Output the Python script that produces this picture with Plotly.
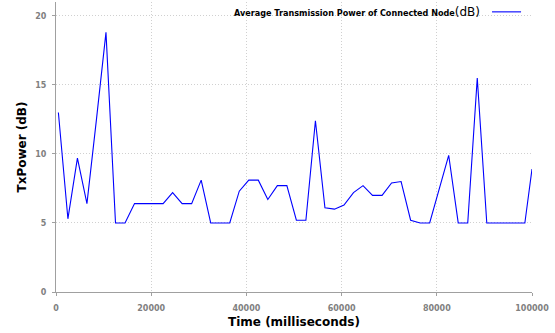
import plotly.graph_objects as go

# Sample times (ms) and average transmit power of the connected node (dB)
time_ms = [500 + 2000 * k for k in range(50)] + [100000]
tx_power_db = [
    13.0, 5.3, 9.7, 6.4, 12.5, 18.8, 5.0, 5.0, 6.4, 6.4,
    6.4, 6.4, 7.2, 6.4, 6.4, 8.1, 5.0, 5.0, 5.0, 7.3,
    8.1, 8.1, 6.7, 7.7, 7.7, 5.2, 5.2, 12.4, 6.1, 6.0,
    6.3, 7.2, 7.7, 7.0, 7.0, 7.9, 8.0, 5.2, 5.0, 5.0,
    7.45, 9.9, 5.0, 5.0, 15.5, 5.0, 5.0, 5.0, 5.0, 5.0,
    8.9,
]
x_ticks = [0, 20000, 40000, 60000, 80000, 100000]
y_ticks = [0, 5, 10, 15, 20]

series_name = "Average Transmission Power of Connected Node"
line_color = "#0000ff"
axis_color = "#a0a0a0"
grid_color = "#d0d0d0"
tick_font = dict(family="DejaVu Sans", size=8, color="#808080")
title_font = dict(family="DejaVu Sans", size=12, color="#000000")

fig = go.Figure()
fig.add_trace(go.Scatter(
    x=time_ms, y=tx_power_db, mode="lines", name=series_name,
    line=dict(color=line_color, width=1.1), showlegend=False,
))

axis_common = dict(
    showline=True, linecolor=axis_color, linewidth=1,
    ticks="outside", ticklen=3, tickcolor=axis_color,
    showgrid=True, gridcolor=grid_color, griddash="1px,2px", gridwidth=1,
    zeroline=False, tickfont=tick_font,
)
fig.update_xaxes(
    range=[0, 100000], tickvals=x_ticks, ticktext=[f"<b>{v}</b>" for v in x_ticks],
    ticklabelstandoff=5,
    title=dict(text="<b>Time (milliseconds)</b>", font=title_font, standoff=6),
    **axis_common,
)
fig.update_yaxes(
    range=[0, 21], tickvals=y_ticks, ticktext=[f"<b>{v}</b>" for v in y_ticks],
    ticklabelstandoff=4,
    title=dict(text="<b>TxPower (dB)</b>", font=title_font, standoff=6),
    **axis_common,
)

# Legend entry drawn as text followed by a line sample on its right
fig.add_annotation(
    xref="paper", yref="paper", x=0.896, y=0.966, xanchor="right", yanchor="middle",
    showarrow=False,
    text=f"<b>{series_name}</b><span style='font-size:12px'>(dB)</span>",
    font=dict(family="DejaVu Sans", size=8.1, color="#000000"),
)
fig.add_shape(
    type="line", xref="paper", yref="paper", x0=0.916, x1=0.977, y0=0.966, y1=0.966,
    line=dict(color=line_color, width=1.1),
)

fig.update_layout(
    width=555, height=333,
    margin=dict(l=56, r=23, t=2, b=41),
    plot_bgcolor="#ffffff", paper_bgcolor="#ffffff",
    showlegend=False,
)

fig.write_html("out.html")
